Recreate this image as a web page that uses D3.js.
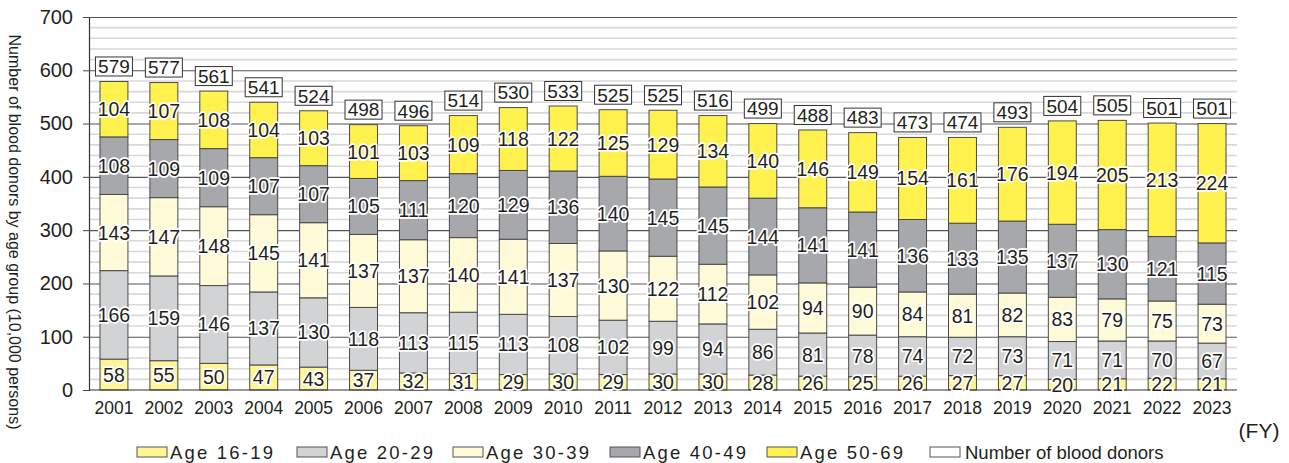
<!DOCTYPE html>
<html>
<head>
<meta charset="utf-8">
<script src="https://cdn.jsdelivr.net/npm/d3@7"></script>
<style>
  html, body { margin: 0; padding: 0; background: #fff; }
  svg { display: block; font-family: "Liberation Sans", Arial, Helvetica, sans-serif; }
</style>
</head>
<body>
<svg id="chart" width="1289" height="463"></svg>
<script>
// Blood donors by age group, FY2001–FY2023 (10,000 persons)
const years = ["2001","2002","2003","2004","2005","2006","2007","2008","2009","2010","2011","2012",
               "2013","2014","2015","2016","2017","2018","2019","2020","2021","2022","2023"];
const age16_19 = [58,55,50,47,43,37,32,31,29,30,29,30,30,28,26,25,26,27,27,20,21,22,21];
const age20_29 = [166,159,146,137,130,118,113,115,113,108,102,99,94,86,81,78,74,72,73,71,71,70,67];
const age30_39 = [143,147,148,145,141,137,137,140,141,137,130,122,112,102,94,90,84,81,82,83,79,75,73];
const age40_49 = [108,109,109,107,107,105,111,120,129,136,140,145,145,144,141,141,136,133,135,137,130,121,115];
const age50_69 = [104,107,108,104,103,101,103,109,118,122,125,129,134,140,146,149,154,161,176,194,205,213,224];
const totals   = [579,577,561,541,524,498,496,514,530,533,525,525,516,499,488,483,473,474,493,504,505,501,501];
const yTicks = [0,100,200,300,400,500,600,700];
const seriesNames = ["Age 16-19","Age 20-29","Age 30-39","Age 40-49","Age 50-69"];
const seriesColors = ["#fff595","#d2d3d5","#fffbd8","#a7a8ab","#fff14e"];
const totalLegend = "Number of blood donors";

const svg = d3.select("#chart");
const margin = {left: 89, right: 52, top: 17, bottom: 73};
const W = 1289, H = 463;
const x0 = margin.left, x1 = W - margin.right;
const y0 = H - margin.bottom, y1 = margin.top;

const x = d3.scaleBand().domain(years).range([x0, x1]).paddingInner(0.44).paddingOuter(0.22);
const y = d3.scaleLinear().domain([0, 700]).range([y0, y1]);

// minor grid every 20
const minor = d3.range(20, 700, 20).filter(v => v % 100 !== 0);
svg.append("g").selectAll("line").data(minor).join("line")
  .attr("x1", x0).attr("x2", x1)
  .attr("y1", d => y(d)).attr("y2", d => y(d))
  .attr("stroke", "#d9d9d9").attr("stroke-width", 1.6);

// major grid + y axis
const yAxis = d3.axisLeft(y).tickValues(yTicks).tickSize(6).tickPadding(10);
const gy = svg.append("g").attr("transform", `translate(${x0},0)`).call(yAxis);
gy.select(".domain").attr("stroke", "#333").attr("stroke-width", 1.2);
gy.selectAll(".tick line").attr("stroke", "#444");
gy.selectAll(".tick text").attr("font-size", 20).attr("fill", "#231f20");
gy.selectAll(".tick").filter(d => d > 0).append("line")
  .attr("x1", 0).attr("x2", x1 - x0).attr("stroke", "#555").attr("stroke-width", 1.1);

// stacked data
const rows = years.map((yr, i) => ({year: yr, s0: age16_19[i], s1: age20_29[i], s2: age30_39[i], s3: age40_49[i], s4: age50_69[i]}));
const stack = d3.stack().keys(["s0","s1","s2","s3","s4"])(rows);

const gBars = svg.append("g");
stack.forEach((layer, k) => {
  gBars.append("g").selectAll("rect").data(layer).join("rect")
    .attr("x", d => x(d.data.year))
    .attr("width", x.bandwidth())
    .attr("y", d => y(d[1]))
    .attr("height", d => y(d[0]) - y(d[1]))
    .attr("fill", seriesColors[k])
    .attr("stroke", "#4a4a4a").attr("stroke-width", 1);
});

// x axis
const xAxis = d3.axisBottom(x).tickSize(0).tickPadding(12);
const gx = svg.append("g").attr("transform", `translate(0,${y0})`).call(xAxis);
gx.select(".domain").attr("stroke", "#333").attr("stroke-width", 1.2).attr("d", `M${x0},0H${x1}`);
gx.selectAll(".tick text").attr("font-size", 17.5).attr("fill", "#231f20");

// segment value labels with white halo
const gLab = svg.append("g");
stack.forEach((layer, k) => {
  gLab.append("g").selectAll("text").data(layer).join("text")
    .attr("x", d => x(d.data.year) + x.bandwidth() / 2)
    .attr("y", d => (y(d[0]) + y(d[1])) / 2)
    .attr("dy", "0.36em")
    .attr("text-anchor", "middle")
    .attr("font-size", 19.5)
    .attr("fill", "#231f20")
    .attr("stroke", "#fff").attr("stroke-width", 3.5).attr("stroke-linejoin", "round")
    .attr("paint-order", "stroke")
    .text(d => d[1] - d[0]);
});

// total boxes
const gTot = svg.append("g");
const topOf = i => stack[4][i][1];
const tg = gTot.selectAll("g").data(totals).join("g")
  .attr("transform", (d, i) => `translate(${x(years[i]) + x.bandwidth() / 2},${y(topOf(i)) - 15})`);
tg.append("rect").attr("x", -18.5).attr("y", -9.5).attr("width", 37).attr("height", 19)
  .attr("fill", "#fff").attr("stroke", "#333").attr("stroke-width", 1);
tg.append("text").attr("text-anchor", "middle").attr("dy", "0.36em")
  .attr("font-size", 19).attr("fill", "#231f20").text(d => d);

// y axis title
svg.append("text")
  .attr("transform", `translate(9,232) rotate(90)`)
  .attr("text-anchor", "middle")
  .attr("font-size", 16).attr("fill", "#231f20")
  .text("Number of blood donors by age group (10,000 persons)");

// (FY)
svg.append("text").attr("x", 1259).attr("y", 438).attr("text-anchor", "middle")
  .attr("font-size", 21).attr("fill", "#231f20").text("(FY)");

// legend
const legendItems = seriesNames.map((n, i) => ({name: n, color: seriesColors[i], spaced: true}))
  .concat([{name: totalLegend, color: "#fff", spaced: false}]);
const legendX = [137, 297, 453, 610, 767, 930];
const gLeg = svg.append("g").attr("transform", "translate(0,447)");
const li = gLeg.selectAll("g").data(legendItems).join("g")
  .attr("transform", (d, i) => `translate(${legendX[i]},0)`);
li.append("rect").attr("width", 30).attr("height", 10)
  .attr("fill", d => d.color).attr("stroke", "#555").attr("stroke-width", 1);
li.append("text").attr("x", d => d.spaced ? 33 : 35).attr("y", 5).attr("dy", "0.36em")
  .attr("font-size", 18.5).attr("fill", "#231f20")
  .attr("letter-spacing", d => d.spaced ? 2.2 : 0)
  .text(d => d.name);
</script>
</body>
</html>
